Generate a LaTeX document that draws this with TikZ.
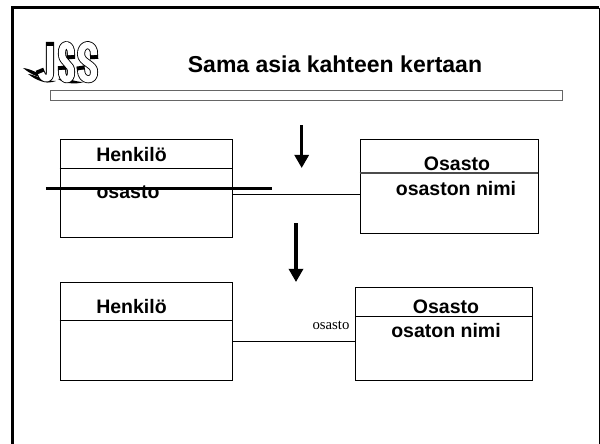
\documentclass[tikz,border=0pt]{standalone}
\usepackage{fontspec}
\setmainfont{Liberation Sans}
\newfontfamily\serifsmall{Liberation Serif}
\usetikzlibrary{arrows.meta, positioning, calc}
\tikzstyle{block} = [draw, rectangle, line width=0.5pt, inner sep=0pt]
\tikzstyle{lbl} = [font=\bfseries\fontsize{11.1}{13}\selectfont, inner sep=0pt]
\tikzstyle{bigarrow} = [line width=1.8pt, -{Triangle[length=7.5pt, width=8pt]}]
\newcommand{\logoletter}[1]{
    \draw[line width=4.6pt, line cap=rect, line join=round] #1;
    \draw[line width=3.6pt, white, line join=round] #1;
}

\begin{document}
\begin{tikzpicture}[x=0.02cm, y=-0.02cm]
    \useasboundingbox (0,0) rectangle (600,444);

    % frame
    \draw[line width=1.3pt] (12.5,444) -- (12.5,7.5) -- (599.5,7.5);
    \draw[line width=0.6pt] (599.5,7.5) -- (599.5,444);

    % logo wings
    \fill (23,68) .. controls (32,69) and (38,74) .. (46,76) .. controls (40,79) and (32,75) .. cycle;
    \fill (28,74) .. controls (36,75) and (44,81) .. (56,81) .. controls (46,85) and (36,80) .. cycle;
    \fill (58,79) .. controls (66,76) and (72,82) .. (84,82) .. controls (74,85) and (64,83) .. cycle;
    % logo letters
    \logoletter{(50,46) -- (50,73) .. controls (50,81) and (43,80) .. (41,73)}
    \logoletter{(71,55) .. controls (72,42) and (61,42) .. (62,54) .. controls (62,63) and (72,64) .. (71,72) .. controls (72,82) and (61,82) .. (62,70)}
    \logoletter{(94,55) .. controls (95,42) and (81,42) .. (81,54) .. controls (81,63) and (95,64) .. (94,72) .. controls (95,82) and (81,82) .. (81,70)}

    % title with bar
    \node[font=\bfseries\fontsize{13.1}{15}\selectfont, inner sep=0pt] (title) at (335,64) {Sama asia kahteen kertaan};
    \node[block, draw=black!60, minimum width=512*0.02cm, minimum height=10*0.02cm] (bar) at (306,95) {};

    % upper pair
    \node[block, minimum width=172*0.02cm, minimum height=98*0.02cm] (hlo1) at (146,188) {};
    \draw[line width=0.5pt] ($(hlo1.north west)+(0,30)$) -- ($(hlo1.north east)+(0,30)$);
    \node[lbl] (hlo1name) at (131.5,155) {Henkilö};
    \node[lbl] (hlo1attr) at (128,192) {osasto};
    \node[block, minimum width=178*0.02cm, minimum height=94*0.02cm] (osa1) at (449,186) {};
    \draw[line width=0.7pt, black!70] ($(osa1.north west)+(0,34.5)$) -- ($(osa1.north east)+(0,34.5)$);
    \node[lbl] (osa1name) at (457,164) {Osasto};
    \node[lbl] (osa1attr) at (456,189) {osaston nimi};
    \coordinate (link1) at ($(hlo1.east)+(0,6)$);
    \draw[line width=0.5pt] (link1) -- (link1 -| osa1.west);

    % crossing out
    \coordinate (strikea) at (46,188.5);
    \coordinate (strikeb) at (272,188.5);
    \draw[line width=1.3pt] (strikea) -- (strikeb);

    % arrows
    \coordinate (arra) at (301.7,125);
    \coordinate (arrb) at (301.7,168);
    \draw[bigarrow] (arra) -- (arrb);
    \coordinate (arrc) at (296,223);
    \coordinate (arrd) at (296,282);
    \draw[bigarrow] (arrc) -- (arrd);

    % lower pair
    \node[block, minimum width=172*0.02cm, minimum height=98*0.02cm] (hlo2) at (146,331) {};
    \draw[line width=0.5pt] ($(hlo2.north west)+(0,39)$) -- ($(hlo2.north east)+(0,39)$);
    \node[lbl] (hlo2name) at (131.5,307) {Henkilö};
    \node[block, minimum width=177*0.02cm, minimum height=93.5*0.02cm] (osa2) at (444,333.75) {};
    \draw[line width=0.5pt] ($(osa2.north west)+(0,29.5)$) -- ($(osa2.north east)+(0,29.5)$);
    \node[lbl] (osa2name) at (446,307) {Osasto};
    \node[lbl] (osa2attr) at (446,331) {osaton nimi};
    \coordinate (link2) at ($(hlo2.east)+(0,10)$);
    \draw[line width=0.5pt] (link2) -- (link2 -| osa2.west);
    \node[font=\serifsmall\fontsize{8.4}{9}\selectfont, inner sep=0pt] (osa2role) at (331,325) {osasto};
\end{tikzpicture}
\end{document}
